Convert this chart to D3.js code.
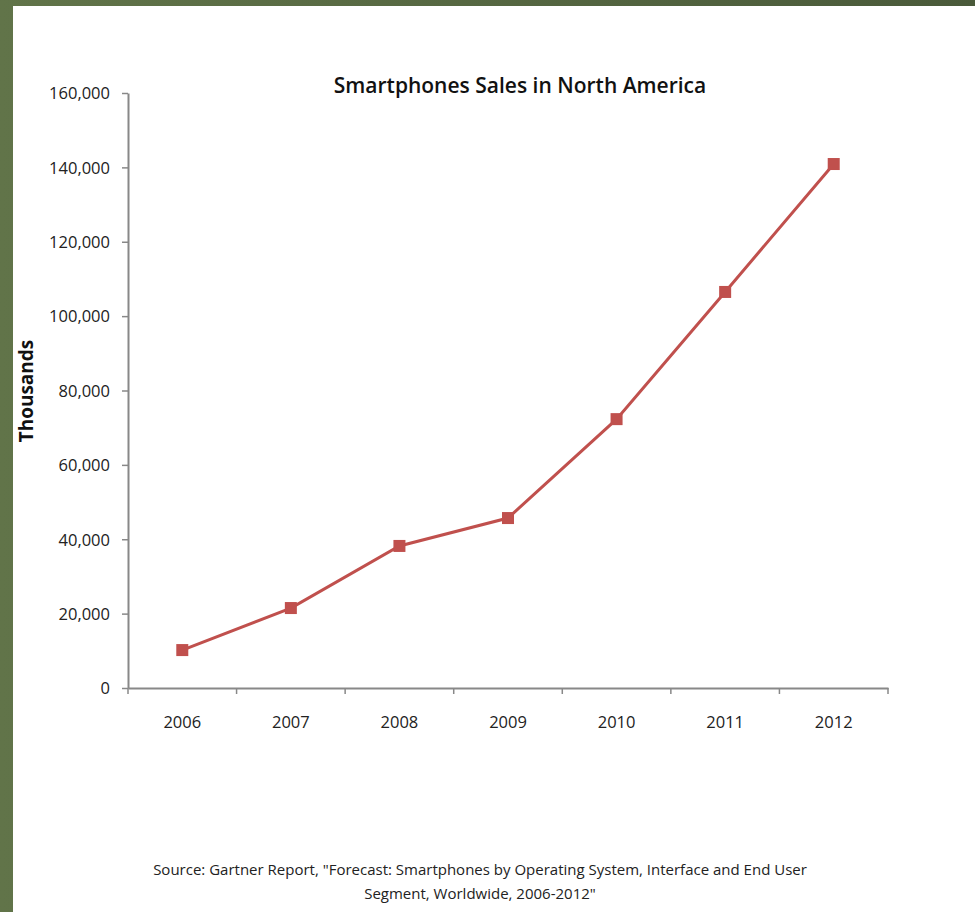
<!DOCTYPE html>
<html><head><meta charset="utf-8">
<script src="https://cdn.jsdelivr.net/npm/d3@7"></script>
<style>html,body{margin:0;padding:0;background:#fff;}svg{display:block;}</style>
</head><body>
<script>
const years = ["2006","2007","2008","2009","2010","2011","2012"];
const sales = [10200, 21500, 38200, 45700, 72300, 106500, 140900];
const yTicks = [0,20000,40000,60000,80000,100000,120000,140000,160000];
const title = "Smartphones Sales in North America";
const yTitle = "Thousands";
const sourceLines = ["Source: Gartner Report, \"Forecast: Smartphones by Operating System, Interface and End User",
                     "Segment, Worldwide, 2006-2012\""];

const W = 975, H = 912;
const svg = d3.select("body").append("svg").attr("width", W).attr("height", H);
const defs = svg.append("defs");
const g1 = defs.append("linearGradient").attr("id","frame").attr("x1","0").attr("x2","1").attr("y1","0").attr("y2","0");
g1.append("stop").attr("offset","0").attr("stop-color","#617449");
g1.append("stop").attr("offset","1").attr("stop-color","#4a5a3a");
svg.append("rect").attr("width",W).attr("height",H).attr("fill","url(#frame)");
svg.append("rect").attr("x",13).attr("y",6).attr("width",W-13).attr("height",H-6).attr("fill","#fff");

const font = "'Open Sans', 'Noto Sans', sans-serif";
const x = d3.scaleBand().domain(years).range([128, 888]);
const y = d3.scaleLinear().domain([0,160000]).range([688, 93]);
const axisColor = "#888888";

const yAxis = svg.append("g").attr("transform","translate(128,0)")
  .call(d3.axisLeft(y).tickValues(yTicks).tickSize(6).tickSizeOuter(0).tickFormat(d3.format(",")));
const xAxis = svg.append("g").attr("transform","translate(0,688)")
  .call(d3.axisBottom(x).tickSize(0).tickSizeOuter(0));
[yAxis, xAxis].forEach(a => {
  a.select(".domain").attr("stroke", axisColor).attr("stroke-width", 2);
  a.selectAll(".tick line").attr("stroke", axisColor).attr("stroke-width", 1.5);
  a.selectAll("text").attr("font-family", font).attr("font-size", 16.5).attr("fill", "#222");
});
yAxis.selectAll("text").attr("x", -18).attr("dy","0.35em");
xAxis.selectAll("text").attr("dy", 0).attr("y", 40);
// x-axis category boundary ticks
const bounds = years.map(d => x(d)).concat([x(years[years.length-1]) + x.bandwidth()]);
xAxis.selectAll(".bnd").data(bounds).join("line").attr("class","bnd")
  .attr("x1", d => d).attr("x2", d => d).attr("y1", 0).attr("y2", 6)
  .attr("stroke", axisColor).attr("stroke-width", 1.5);

const cx = d => x(d) + x.bandwidth()/2;
const line = d3.line().x((d,i) => cx(years[i])).y(d => y(d));
svg.append("path").datum(sales).attr("d", line).attr("fill","none")
  .attr("stroke","#c0504d").attr("stroke-width",3);
const ms = 12;
svg.selectAll(".pt").data(sales).join("rect").attr("class","pt")
  .attr("x", (d,i) => cx(years[i]) - ms/2).attr("y", d => y(d) - ms/2)
  .attr("width", ms).attr("height", ms).attr("fill","#c0504d");

svg.append("text").attr("x", 520).attr("y", 93).attr("text-anchor","middle")
  .attr("font-family", font).attr("font-weight", 600).attr("font-size", 21).attr("fill","#111").text(title);
svg.append("text").attr("transform","translate(33,391) rotate(-90)").attr("text-anchor","middle")
  .attr("font-family", font).attr("font-weight", 700).attr("font-size", 19).attr("fill","#111").text(yTitle);
svg.selectAll(".src").data(sourceLines).join("text").attr("class","src")
  .attr("x", 480).attr("y", (d,i) => 875 + i*24).attr("text-anchor","middle")
  .attr("font-family", font).attr("font-size", 15).attr("fill","#222").text(d => d);
</script>
</body></html>
